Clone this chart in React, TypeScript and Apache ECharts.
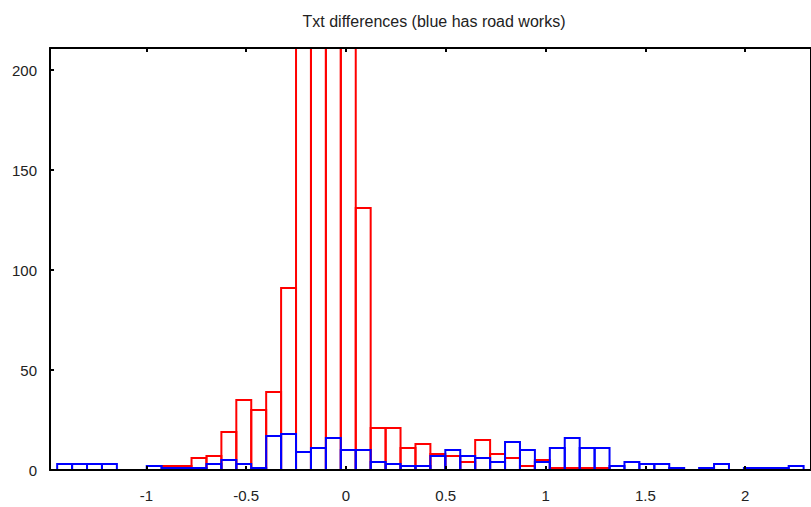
import React, { useEffect, useRef } from "react";
import * as echarts from "echarts";

// Histogram bins (x values of left edges are binStart + k * binWidth)
const binStart = -1.447;
const binWidth = 0.0748;

// Counts per bin (red = without road works, blue = with road works)
const redCounts = [
  0, 0, 0, 0, 0, 0, 0, 2, 2, 6,
  7, 19, 35, 30, 39, 91, 290, 420, 510, 360,
  131, 21, 21, 11, 13, 8, 7, 4, 15, 8,
  6, 2, 5, 1, 1, 1, 1, 0, 0, 0,
  0, 0, 0, 0, 0, 0, 0, 0, 0, 0,
];
const blueCounts = [
  3, 3, 3, 3, 0, 0, 2, 1, 1, 1,
  3, 5, 3, 1, 17, 18, 9, 11, 16, 10,
  10, 4, 3, 2, 2, 7, 10, 7, 6, 4,
  14, 10, 4, 11, 16, 11, 11, 2, 4, 3,
  3, 1, 0, 1, 3, 0, 1, 1, 1, 2,
];

const xTicks = [-1, -0.5, 0, 0.5, 1, 1.5, 2];
const yTicks = [0, 50, 100, 150, 200];
const titleText = "Txt differences (blue has road works)";

const xMin = -1.4829;
const xMax = 2.33;
const yMin = 0;
const yMax = 211;

const FONT = "'Liberation Sans', Arial, Helvetica, sans-serif";

function toBins(counts: number[]) {
  return counts.map((c, k) => [binStart + k * binWidth, binStart + (k + 1) * binWidth, c]);
}

function makeRender(color: string) {
  return (params: any, api: any) => {
    const x0 = api.value(0);
    const x1 = api.value(1);
    const v = api.value(2);
    if (!v) return null;
    const p0 = api.coord([x0, v]);
    const p1 = api.coord([x1, 0]);
    const shape = echarts.graphic.clipRectByRect(
      { x: p0[0], y: p0[1], width: p1[0] - p0[0], height: p1[1] - p0[1] },
      {
        x: params.coordSys.x,
        y: params.coordSys.y,
        width: params.coordSys.width,
        height: params.coordSys.height,
      }
    );
    if (!shape) return null;
    return {
      type: "rect",
      shape,
      style: { fill: "none", stroke: color, lineWidth: 2 },
    };
  };
}

export default function App() {
  const ref = useRef<HTMLDivElement>(null);
  useEffect(() => {
    if (!ref.current) return;
    const chart = echarts.init(ref.current, undefined, { renderer: "svg" });
    const axisLine = { show: true, onZero: false, lineStyle: { color: "#000", width: 2 } };
    const label = { color: "#222", fontSize: 15, fontFamily: FONT };
    const tickStyle = { color: "#000", width: 2 };
    chart.setOption({
      animation: false,
      backgroundColor: "#fff",
      grid: { left: 50, top: 48, bottom: 37, right: -7, containLabel: false },
      graphic: [
        {
          type: "text",
          x: 434,
          y: 21,
          z: 10,
          style: {
            text: titleText,
            fill: "#222",
            font: `16px ${FONT}`,
            textAlign: "center",
            textVerticalAlign: "middle",
          },
        },
      ],
      xAxis: [
        {
          type: "value",
          position: "bottom",
          min: xMin,
          max: xMax,
          z: 5,
          axisLine,
          splitLine: { show: false },
          axisTick: { inside: true, length: 4, customValues: xTicks, lineStyle: tickStyle },
          axisLabel: { ...label, margin: 18, customValues: xTicks },
        },
        {
          type: "value",
          position: "top",
          min: xMin,
          max: xMax,
          z: 5,
          axisLine,
          splitLine: { show: false },
          axisTick: { inside: true, length: 4, customValues: xTicks, lineStyle: tickStyle },
          axisLabel: { show: false },
        },
      ],
      yAxis: [
        {
          type: "value",
          position: "left",
          min: yMin,
          max: yMax,
          z: 5,
          axisLine,
          splitLine: { show: false },
          axisTick: { inside: true, length: 4, customValues: yTicks, lineStyle: tickStyle },
          axisLabel: { ...label, margin: 13, padding: [8, 0, 0, 0], customValues: yTicks },
        },
        {
          type: "value",
          position: "right",
          min: yMin,
          max: yMax,
          z: 5,
          axisLine,
          splitLine: { show: false },
          axisTick: { show: false },
          axisLabel: { show: false },
        },
      ],
      series: [
        {
          type: "custom",
          name: "red",
          xAxisIndex: 0,
          yAxisIndex: 0,
          z: 2,
          data: toBins(redCounts),
          encode: { x: [0, 1], y: 2 },
          renderItem: makeRender("#ff0000"),
        },
        {
          type: "custom",
          name: "blue",
          xAxisIndex: 0,
          yAxisIndex: 0,
          z: 3,
          data: toBins(blueCounts),
          encode: { x: [0, 1], y: 2 },
          renderItem: makeRender("#0000ff"),
        },
      ],
    });
    return () => chart.dispose();
  }, []);
  return (
    <div
      ref={ref}
      style={{ position: "fixed", left: 0, top: 0, width: 811, height: 507, background: "#fff" }}
    />
  );
}
